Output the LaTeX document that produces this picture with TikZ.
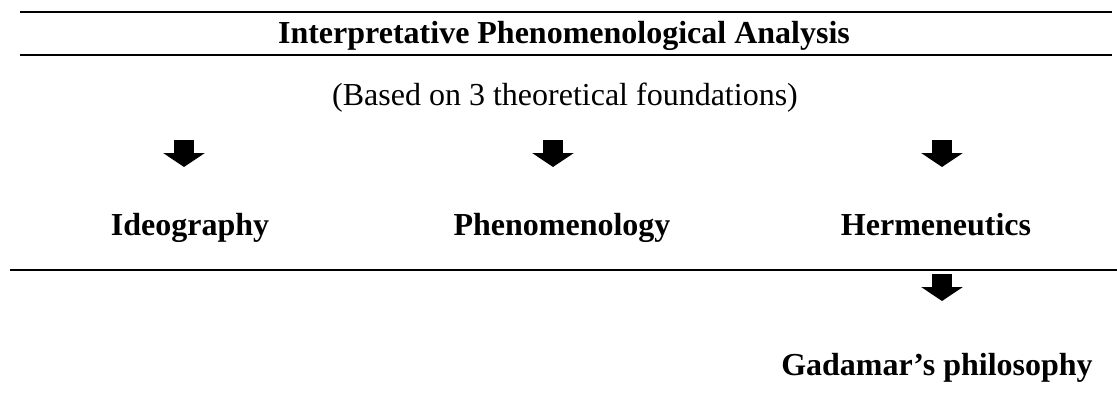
\documentclass[tikz,border=0pt]{standalone}
\usepackage{fontspec}
\setmainfont{Liberation Serif}
\usetikzlibrary{arrows.meta}

\tikzset{
    rule/.style={line width=1pt},
    heading/.style={anchor=base,font=\fontsize{16}{19}\selectfont\bfseries},
    plain/.style={anchor=base,font=\fontsize{16}{19}\selectfont},
    blockarrow/.style={line width=10pt,-{Triangle[width=20.5pt,length=7pt]}}
}

\begin{document}
\begin{tikzpicture}[x=0.5pt,y=-0.5pt]
    \useasboundingbox (0,0) rectangle (1117,403);
    \draw[rule] (20,12)--(1112,12);
    \node[heading] (IPA) at (564,43) {Interpretative Phenomenological Analysis};
    \draw[rule] (20,55)--(1112,55);
    \node[plain] (Based) at (565,105) {(Based on 3 theoretical foundations)};

    \foreach \x [count=\i] in {184,553,942}
{
    \coordinate (A\i) at (\x,140);
    \coordinate (B\i) at (\x,167);
    \draw[blockarrow] (A\i)--(B\i);
}
    \node[heading] (Ideo) at (190,235) {Ideography};
    \node[heading] (Phen) at (562,235) {Phenomenology};
    \node[heading] (Herm) at (936,235) {Hermeneutics};

    \draw[rule] (10,270)--(1117,270);
    \coordinate (A4) at (942,274);
    \coordinate (B4) at (942,301);
    \draw[blockarrow] (A4)--(B4);
    \node[heading] (Gada) at (937,375) {Gadamar’s philosophy};
\end{tikzpicture}
\end{document}
